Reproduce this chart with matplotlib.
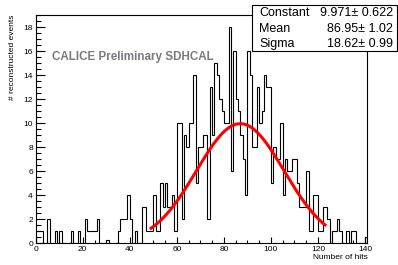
import numpy as np
import matplotlib
matplotlib.use("Agg")
import matplotlib.pyplot as plt
from matplotlib.patches import Rectangle
from matplotlib.ticker import MultipleLocator

plt.rcParams['font.family'] = ['Liberation Sans', 'DejaVu Sans']

# histogram: 1-hit bins starting at 0
bin_edges_start = 0
bin_width = 1
counts = [
    1, 1, 1, 0, 0, 2, 0, 0, 1, 0,      # 0-9
    1, 0, 0, 0, 0, 1, 0, 0, 1, 0,      # 10-19
    0, 2, 1, 1, 1, 1, 2, 0, 0, 0,      # 20-29
    0.3, 0, 0, 0, 0, 1, 2, 2, 2, 4,    # 30-39
    2, 0, 1, 0, 0, 3, 3, 1, 1, 1,      # 40-49
    4, 1, 1, 5, 3, 5, 3, 3, 4, 1,      # 50-59
    10, 10, 2, 9, 8, 10, 10, 14, 5, 8, # 60-69
    8, 9, 9, 2, 13, 9, 15, 14, 12, 11, # 70-79
    10, 10, 18, 6, 16, 12, 11, 9, 7, 4, # 80-89
    16, 14, 8, 8, 13, 10, 11, 14, 13, 13, # 90-99
    5, 8, 7, 7, 10, 4, 7, 6, 6, 7,     # 100-109
    7, 5, 3, 3, 3, 6, 1, 1, 4, 4,      # 110-119
    1, 1, 3, 3, 2, 0, 1, 1, 2, 1,      # 120-129
    0, 0, 1, 0, 1, 1, 0, 0, 0, 0,      # 130-139
    0.5,                               # 140
]

# Gaussian fit result
fit_constant, fit_constant_err = 9.971, 0.622
fit_mean, fit_mean_err = 86.95, 1.02
fit_sigma, fit_sigma_err = 18.62, 0.99
fit_range = (48.5, 123.5)

stat_names = ["Constant", "Mean", "Sigma"]
stat_values = ["9.971\u00b1 0.622", "86.95\u00b1 1.02", "18.62\u00b1 0.99"]

x_ticks = [0, 20, 40, 60, 80, 100, 120, 140]
y_ticks = [0, 2, 4, 6, 8, 10, 12, 14, 16, 18]

W, H = 398, 265
fig = plt.figure(figsize=(W / 100, H / 100), dpi=100)
ax_l, ax_r = 35.7 / W, 367.4 / W
ax_b, ax_t = 1 - 243.3 / H, 1 - 15 / H
ax = fig.add_axes([ax_l, ax_b, ax_r - ax_l, ax_t - ax_b])

edges = bin_edges_start + bin_width * np.arange(len(counts) + 1)
ax.stairs(counts, edges, color='black', lw=0.8, baseline=0)

xf = np.linspace(fit_range[0], fit_range[1], 300)
yf = fit_constant * np.exp(-0.5 * ((xf - fit_mean) / fit_sigma) ** 2)
ax.plot(xf, yf, color='#ff0000', lw=2.2, solid_capstyle='butt')

ax.set_xlim(0, 141)
ax.set_ylim(0, 19.03)
ax.set_xticks(x_ticks)
ax.set_yticks(y_ticks)
ax.xaxis.set_minor_locator(MultipleLocator(5))
ax.yaxis.set_minor_locator(MultipleLocator(0.5))
ax.tick_params(axis='both', which='both', direction='in', top=False, right=False,
               labelsize=6, width=0.8)
ax.tick_params(axis='y', which='major', length=6.5, pad=2)
ax.tick_params(axis='y', which='minor', length=3.3)
ax.tick_params(axis='x', which='major', length=4.3, pad=2)
ax.tick_params(axis='x', which='minor', length=2.2)
for s in ax.spines.values():
    s.set_linewidth(0.8)

ax.set_xlabel("Number of hits", fontsize=6, loc='right', labelpad=1)
ax.set_ylabel("# reconstructed events", fontsize=6, loc='top', labelpad=5)

ax.text(51.7 / W, 1 - 56.7 / H, "CALICE Preliminary SDHCAL", transform=fig.transFigure,
        fontsize=8.4, fontweight='bold', color='#7a7a82', ha='left', va='center')

# stats box
bx0, bx1 = 251.7 / W, 396.7 / W
by1, by0 = 1 - 5 / H, 1 - 50.7 / H
fig.patches.append(Rectangle((bx0, by0), bx1 - bx0, by1 - by0, transform=fig.transFigure,
                             facecolor='white', edgecolor='black', lw=0.8, zorder=5))
rows_y = [13.3, 29.0, 44.0]
for name, val, yy in zip(stat_names, stat_values, rows_y):
    fig.text(259.3 / W, 1 - yy / H, name, fontsize=9, ha='left', va='center', zorder=6)
    fig.text(392.7 / W, 1 - yy / H, val, fontsize=9, ha='right', va='center', zorder=6)

fig.savefig("out.png", dpi=100)
